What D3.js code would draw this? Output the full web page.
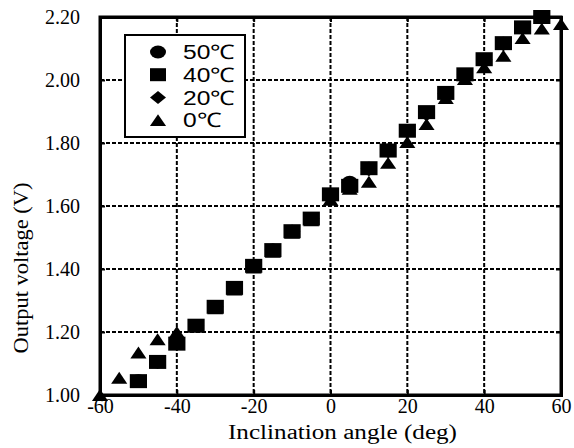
<!DOCTYPE html>
<html>
<head>
<meta charset="utf-8">
<script src="https://cdn.jsdelivr.net/npm/d3@7"></script>
<style>
  body { margin: 0; background: #fff; }
  svg { display: block; }
</style>
</head>
<body>
<svg id="chart" width="574" height="448"></svg>
<script>
var angles = [-60, -55, -50, -45, -40, -35, -30, -25, -20, -15, -10, -5, 0, 5, 10, 15, 20, 25, 30, 35, 40, 45, 50, 55, 60];

// 50C circles, 40C squares, 20C diamonds, 0C triangles (null = no point)
var temp50 = [null, null, 1.045, 1.105, 1.165, 1.22, 1.28, 1.34, 1.41, 1.46, 1.52, 1.56, 1.635, 1.675, 1.72, 1.778, 1.84, 1.897, 1.957, 2.017, 2.065, 2.117, 2.167, 2.2, null];
var temp40 = [null, null, 1.044, 1.105, 1.163, 1.22, 1.28, 1.34, 1.41, 1.46, 1.52, 1.56, 1.637, 1.664, 1.72, 1.776, 1.839, 1.898, 1.959, 2.018, 2.066, 2.117, 2.167, 2.2, null];
var temp20 = [null, null, 1.044, 1.104, 1.163, 1.22, 1.28, 1.34, 1.41, 1.46, 1.52, 1.56, 1.633, 1.662, 1.715, 1.772, 1.835, 1.89, 1.952, 2.012, 2.06, 2.112, 2.162, 2.195, null];
var temp0 = [1.0, 1.055, 1.135, 1.177, 1.2, 1.218, 1.275, 1.335, 1.405, 1.455, 1.515, 1.555, 1.62, 1.655, 1.677, 1.737, 1.803, 1.86, 1.943, 2.003, 2.04, 2.077, 2.133, 2.163, 2.178];

var xTicks = [-60, -40, -20, 0, 20, 40, 60];
var yTicks = [1.0, 1.2, 1.4, 1.6, 1.8, 2.0, 2.2];
var legendLabels = ['50\u2103', '40\u2103', '20\u2103', '0\u2103'];

var pLeft = 100, pRight = 561, pTop = 17, pBottom = 395;
var stretch = 1.23; // the picture is widened a little, marks and titles too

var x = d3.scaleLinear().domain([-60, 60]).range([pLeft, pRight]);
var y = d3.scaleLinear().domain([1.0, 2.2]).range([pBottom, pTop]);

var svg = d3.select('#chart');
var serif = '"Liberation Serif", "Times New Roman", serif';

var diamond = {
  draw: function(ctx, size) {
    var r = Math.sqrt(size / 2);
    ctx.moveTo(0, -r);
    ctx.lineTo(r, 0);
    ctx.lineTo(0, r);
    ctx.lineTo(-r, 0);
    ctx.closePath();
  }
};
var flatTriangle = {
  draw: function(ctx, size) {
    var w = Math.sqrt(size * 2 * 1.1), h = w / 1.1;
    ctx.moveTo(0, -h / 2);
    ctx.lineTo(w / 2, h / 2);
    ctx.lineTo(-w / 2, h / 2);
    ctx.closePath();
  }
};

var series = [
  { label: legendLabels[0], values: temp50, type: d3.symbolCircle, size: 133 },
  { label: legendLabels[2], values: temp20, type: diamond, size: 84 },
  { label: legendLabels[3], values: temp0, type: flatTriangle, size: 78 },
  { label: legendLabels[1], values: temp40, type: d3.symbolSquare, size: 196 }
];
var legendOrder = [series[0], series[3], series[1], series[2]];

// gridlines
svg.append('g')
  .selectAll('line')
  .data(xTicks.slice(1, -1))
  .enter()
  .append('line')
  .attr('x1', function(d) { return x(d); })
  .attr('x2', function(d) { return x(d); })
  .attr('y1', pTop)
  .attr('y2', pBottom)
  .style('stroke', '#000')
  .style('stroke-width', 2)
  .style('stroke-dasharray', '4,2');

svg.append('g')
  .selectAll('line')
  .data(yTicks.slice(1, -1))
  .enter()
  .append('line')
  .attr('x1', pLeft)
  .attr('x2', pRight)
  .attr('y1', function(d) { return y(d); })
  .attr('y2', function(d) { return y(d); })
  .style('stroke', '#000')
  .style('stroke-width', 2)
  .style('stroke-dasharray', '4,2');

// axes
svg.append('g')
  .attr('transform', 'translate(0,' + pBottom + ')')
  .call(d3.axisBottom(x).tickValues(xTicks).tickSize(-5).tickPadding(4)
    .tickFormat(function(d) { return String(d); }));

svg.append('g')
  .attr('transform', 'translate(' + pLeft + ',0)')
  .call(d3.axisLeft(y).tickValues(yTicks).tickSize(-5).tickPadding(20).tickFormat(d3.format('.2f')));

svg.append('g')
  .attr('transform', 'translate(0,' + pTop + ')')
  .call(d3.axisTop(x).tickValues(xTicks).tickSize(-5).tickFormat(''));

svg.append('g')
  .attr('transform', 'translate(' + pRight + ',0)')
  .call(d3.axisRight(y).tickValues(yTicks).tickSize(-5).tickFormat(''));

svg.selectAll('.domain').style('stroke-width', 3).style('stroke', '#000');
svg.selectAll('.tick line').style('stroke-width', 2).style('stroke', '#000');
svg.selectAll('.tick text')
  .style('font-family', serif)
  .style('font-size', '20px')
  .style('fill', '#000');

// frame
svg.append('rect')
  .attr('x', pLeft)
  .attr('y', pTop)
  .attr('width', pRight - pLeft)
  .attr('height', pBottom - pTop)
  .style('fill', 'none')
  .style('stroke', '#000')
  .style('stroke-width', 3);

// markers (squares last, they sit on top in the picture)
series.forEach(function(s) {
  svg.append('g')
    .selectAll('path')
    .data(angles.map(function(a, i) { return { a: a, v: s.values[i] }; })
      .filter(function(d) { return d.v !== null; }))
    .enter()
    .append('path')
    .attr('d', d3.symbol().type(s.type).size(s.size))
    .attr('transform', function(d) {
      return 'translate(' + x(d.a) + ',' + y(d.v) + ') scale(' + stretch + ',1)';
    })
    .style('fill', '#000');
});

// legend
var legend = svg.append('g').attr('transform', 'translate(125,35)');
legend.append('rect')
  .attr('width', 120)
  .attr('height', 102)
  .style('fill', '#fff')
  .style('stroke', '#000')
  .style('stroke-width', 2);

var rows = legend.selectAll('g.row')
  .data(legendOrder)
  .enter()
  .append('g')
  .attr('class', 'row')
  .attr('transform', function(d, i) { return 'translate(33,' + (17 + i * 22.7) + ')'; });

rows.append('path')
  .attr('d', function(d) { return d3.symbol().type(d.type).size(d.type === d3.symbolSquare ? 169 : d.size)(); })
  .attr('transform', 'scale(' + stretch + ',1)')
  .style('fill', '#000');

rows.append('text')
  .attr('transform', 'translate(25,0) scale(' + stretch + ',1)')
  .attr('dy', '0.36em')
  .style('font-family', '"Liberation Sans", Arial, sans-serif')
  .style('font-size', '20px')
  .text(function(d) { return d.label; });

// axis titles
svg.append('text')
  .attr('x', 342.5)
  .attr('y', 439)
  .attr('text-anchor', 'middle')
  .attr('textLength', 229)
  .attr('lengthAdjust', 'spacingAndGlyphs')
  .style('font-family', serif)
  .style('font-size', '20px')
  .text('Inclination angle (deg)');

svg.append('text')
  .attr('transform', 'translate(28,268) rotate(-90)')
  .attr('text-anchor', 'middle')
  .attr('textLength', 171)
  .attr('lengthAdjust', 'spacingAndGlyphs')
  .style('font-family', serif)
  .style('font-size', '21px')
  .text('Output voltage (V)');
</script>
</body>
</html>
